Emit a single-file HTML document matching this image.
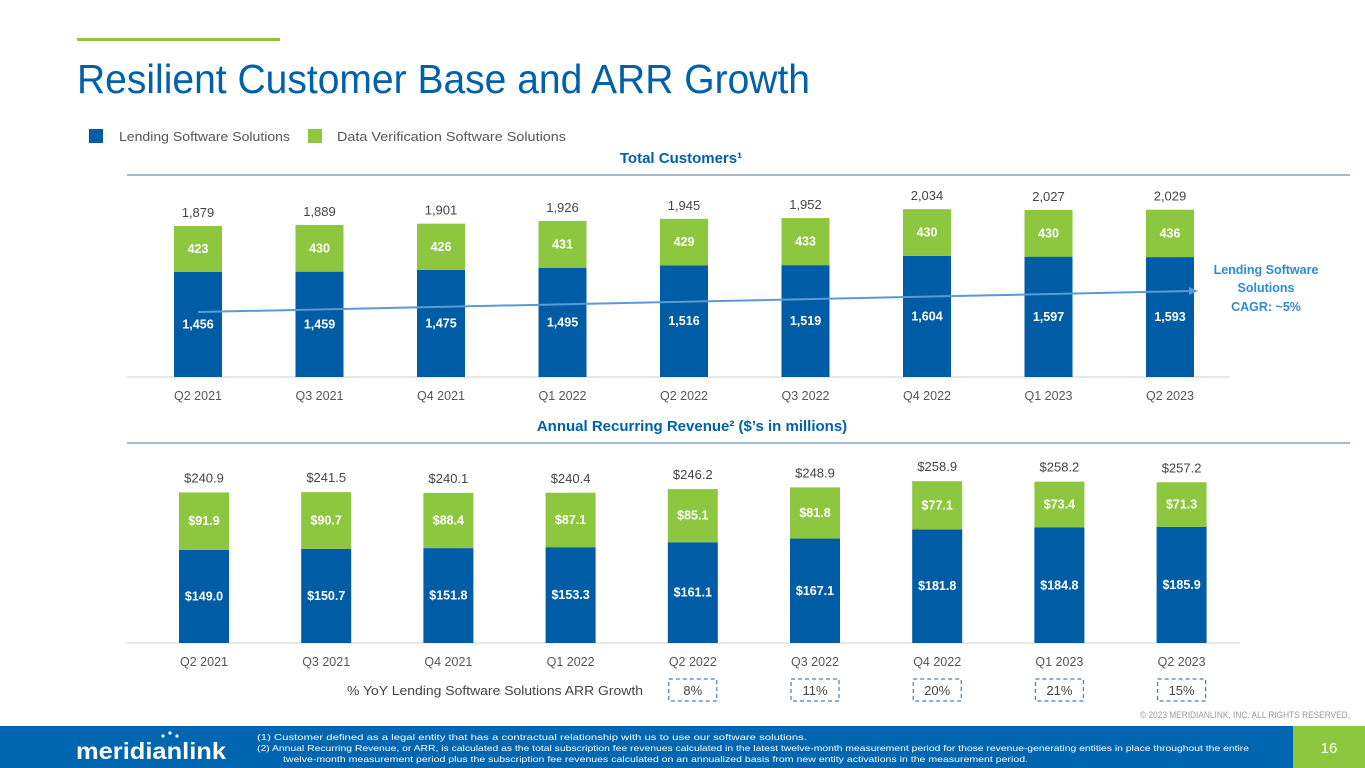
<!DOCTYPE html>
<html><head><meta charset="utf-8"><style>
html,body{margin:0;padding:0;background:#fff;}
svg{display:block;font-family:"Liberation Sans",sans-serif;}
</style></head><body>
<svg id="s" width="1365" height="768" viewBox="0 0 1365 768">
<rect x="77" y="38" width="203" height="3" fill="#8dc63f"/>
<text x="77" y="93" font-size="41" fill="#0060a9" textLength="733" lengthAdjust="spacingAndGlyphs">Resilient Customer Base and ARR Growth</text>
<rect x="89" y="129" width="14" height="14" fill="#005ca4"/>
<text x="119" y="141" font-size="13" fill="#555" textLength="171" lengthAdjust="spacingAndGlyphs">Lending Software Solutions</text>
<rect x="308" y="129" width="14" height="14" fill="#8dc63f"/>
<text x="337" y="141" font-size="13" fill="#555" textLength="229" lengthAdjust="spacingAndGlyphs">Data Verification Software Solutions</text>
<text x="681" y="163" font-size="15" font-weight="bold" fill="#0060a9" text-anchor="middle">Total Customers¹</text>
<line x1="127" y1="175" x2="1350" y2="175" stroke="#6a8fb5" stroke-width="1.2"/>
<text x="692" y="431" font-size="15" font-weight="bold" fill="#0060a9" text-anchor="middle">Annual Recurring Revenue² ($’s in millions)</text>
<line x1="127" y1="443" x2="1350" y2="443" stroke="#6a8fb5" stroke-width="1.2"/>
<g id="topG"></g>
<g id="botG"></g>
<text x="1266" y="274" font-size="12.5" font-weight="bold" fill="#2e8bd0" text-anchor="middle">Lending Software</text>
<text x="1266" y="292" font-size="12.5" font-weight="bold" fill="#2e8bd0" text-anchor="middle">Solutions</text>
<text x="1266" y="311" font-size="12.5" font-weight="bold" fill="#2e8bd0" text-anchor="middle">CAGR: ~5%</text>
<text x="643" y="695" font-size="13" fill="#444" text-anchor="end" textLength="296" lengthAdjust="spacingAndGlyphs">% YoY Lending Software Solutions ARR Growth</text>
<g id="yoyG"></g>
<text x="1350" y="718" font-size="9" fill="#999" text-anchor="end" textLength="210" lengthAdjust="spacingAndGlyphs">© 2023 MERIDIANLINK, INC. ALL RIGHTS RESERVED.</text>
<rect x="0" y="726" width="1293" height="42" fill="#0066b0"/>
<rect x="1293" y="726" width="72" height="42" fill="#8dc63f"/>
<text x="1329" y="753" font-size="15" fill="#fff" text-anchor="middle">16</text>
<text x="76" y="759" font-size="23" font-weight="bold" fill="#fff" textLength="150" lengthAdjust="spacingAndGlyphs">meridianlink</text>
<circle cx="163" cy="736" r="1.6" fill="#fff"/><circle cx="170" cy="733" r="1.6" fill="#fff"/><circle cx="177" cy="736" r="1.6" fill="#fff"/>
<text x="257" y="740" font-size="8.5" fill="#fff" textLength="550" lengthAdjust="spacingAndGlyphs">(1)    Customer defined as a legal entity that has a contractual relationship with us to use our software solutions.</text>
<text x="257" y="751" font-size="8.5" fill="#fff" textLength="992" lengthAdjust="spacingAndGlyphs">(2)    Annual Recurring Revenue, or ARR, is calculated as the total subscription fee revenues calculated in the latest twelve-month measurement period for those revenue-generating entities in place throughout the entire</text>
<text x="283" y="762" font-size="8.5" fill="#fff" textLength="745" lengthAdjust="spacingAndGlyphs">twelve-month measurement period plus the subscription fee revenues calculated on an annualized basis from new entity activations in the measurement period.</text>
</svg>
<script>
const categories = ["Q2 2021","Q3 2021","Q4 2021","Q1 2022","Q2 2022","Q3 2022","Q4 2022","Q1 2023","Q2 2023"];
const custLending = [1456,1459,1475,1495,1516,1519,1604,1597,1593];
const custData = [423,430,426,431,429,433,430,430,436];
const custTotalLabels = ["1,879","1,889","1,901","1,926","1,945","1,952","2,034","2,027","2,029"];
const arrLending = [149.0,150.7,151.8,153.3,161.1,167.1,181.8,184.8,185.9];
const arrData = [91.9,90.7,88.4,87.1,85.1,81.8,77.1,73.4,71.3];
const arrTotals = [240.9,241.5,240.1,240.4,246.2,248.9,258.9,258.2,257.2];
const yoyGrowth = ["8%","11%","20%","21%","15%"];

const NS="http://www.w3.org/2000/svg";
function mk(parent,tag,attrs,txt){const e=document.createElementNS(NS,tag);for(const k in attrs)e.setAttribute(k,attrs[k]);if(txt!=null)e.textContent=txt;parent.appendChild(e);return e;}
const fmtC=v=>v.toLocaleString("en-US");
const fmtD=v=>"$"+v.toFixed(1);

const topG=document.getElementById("topG");
const tx=i=>198+i*121.5, tBase=377, tMin=490, tK=0.1087;
const ty=v=>tBase-(v-tMin)*tK;
mk(topG,"line",{x1:127,y1:tBase,x2:1230,y2:tBase,stroke:"#d0d0d0","stroke-width":1});
categories.forEach((c,i)=>{
  const x=tx(i)-24, yb=ty(custLending[i]), yg=ty(custLending[i]+custData[i]);
  let r=mk(topG,"rect",{x:x,y:yb,width:48,height:tBase-yb,fill:"#005ca4"});
  
  
  r=mk(topG,"rect",{x:x,y:yg,width:48,height:yb-yg,fill:"#8dc63f"});
  
  
  let t=mk(topG,"text",{x:tx(i),y:(yb+tBase)/2+4,"font-size":12.5,"font-weight":"bold",fill:"#fff","text-anchor":"middle"},fmtC(custLending[i]));
  
  
  t=mk(topG,"text",{x:tx(i),y:(yg+yb)/2+4,"font-size":12.5,"font-weight":"bold",fill:"#fff","text-anchor":"middle"},fmtC(custData[i]));
  
  
  t=mk(topG,"text",{x:tx(i),y:yg-9,"font-size":13,fill:"#444","text-anchor":"middle"},custTotalLabels[i]);
  
  
  t=mk(topG,"text",{x:tx(i),y:400,"font-size":12.5,fill:"#555","text-anchor":"middle"},c);
  
  
});
const tl=mk(topG,"line",{x1:tx(0),y1:312,x2:1192,y2:291,stroke:"#5b9bd5","stroke-width":2});


mk(topG,"polygon",{points:"1198,291 1189,287 1189,295",fill:"#5b9bd5"});

const botG=document.getElementById("botG");
const bx=i=>204+i*122.2, bBase=643, bK=0.625;
const by=v=>bBase-v*bK;
mk(botG,"line",{x1:127,y1:bBase,x2:1240,y2:bBase,stroke:"#d0d0d0","stroke-width":1});
categories.forEach((c,i)=>{
  const x=bx(i)-25, yb=by(arrLending[i]), yg=by(arrLending[i]+arrData[i]);
  let r=mk(botG,"rect",{x:x,y:yb,width:50,height:bBase-yb,fill:"#005ca4"});
  
  
  r=mk(botG,"rect",{x:x,y:yg,width:50,height:yb-yg,fill:"#8dc63f"});
  
  
  let t=mk(botG,"text",{x:bx(i),y:(yb+bBase)/2+4,"font-size":12.5,"font-weight":"bold",fill:"#fff","text-anchor":"middle"},fmtD(arrLending[i]));
  
  
  t=mk(botG,"text",{x:bx(i),y:(yg+yb)/2+4,"font-size":12.5,"font-weight":"bold",fill:"#fff","text-anchor":"middle"},fmtD(arrData[i]));
  
  
  t=mk(botG,"text",{x:bx(i),y:yg-10,"font-size":13,fill:"#444","text-anchor":"middle"},fmtD(arrTotals[i]));
  
  
  t=mk(botG,"text",{x:bx(i),y:666,"font-size":12.5,fill:"#555","text-anchor":"middle"},c);
  
  
});
const yoyG=document.getElementById("yoyG");
yoyGrowth.forEach((g,j)=>{
  const i=j+4, cx=bx(i);
  const r=mk(yoyG,"rect",{x:cx-24,y:679,width:48,height:22,fill:"none",stroke:"#4a7fb0","stroke-width":1.2,"stroke-dasharray":"4,3"});
  
  
  const t=mk(yoyG,"text",{x:cx,y:695,"font-size":13,fill:"#444","text-anchor":"middle"},g);
  
  
});
</script>
</body></html>
